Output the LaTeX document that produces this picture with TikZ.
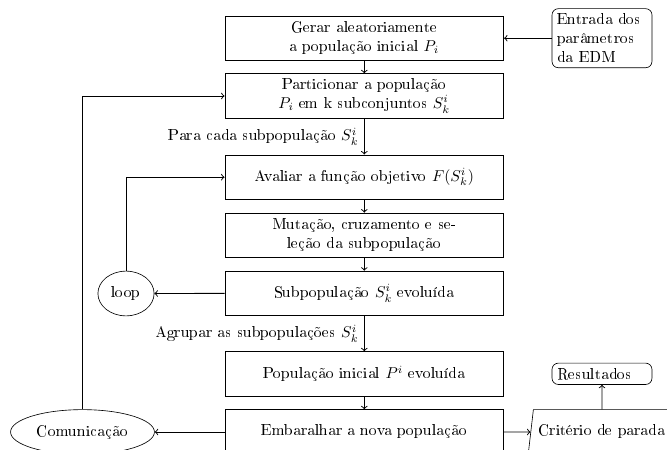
\documentclass[tikz,border=0pt]{standalone}
\usepackage[T1]{fontenc}
\usetikzlibrary{shapes.geometric}
\begin{document}
\begin{tikzpicture}[x=0.636pt,y=-0.636pt,
  mainbox/.style={draw, rectangle, text width=6cm, align=center, minimum height=1cm},
  sidebox/.style={draw, rectangle, rounded corners, text width=2cm, align=left},
  ellnode/.style={draw, ellipse, minimum height=1cm},
  iobox/.style={draw, trapezium, trapezium left angle=78, trapezium right angle=102, trapezium stretches=true, minimum height=1cm},
  conn/.style={->, semithick}]
\useasboundingbox (0,0) rectangle (667,450);
\clip (0,0) rectangle (667,450);
\node[mainbox] (b1) at (364.3,38.2) {Gerar aleatoriamente\\ a população inicial $P_i$};
\node[mainbox] (b2) at (364.3,96) {Particionar a população\\ $P_i$ em k subconjuntos $S_k^i$};
\node[mainbox] (b3) at (364.3,177.2) {Avaliar a função objetivo $F(S_k^i)$};
\node[mainbox] (b4) at (364.3,235.3) {Mutação, cruzamento e se-\\leção da subpopulação};
\node[mainbox] (b5) at (364.3,293.4) {Subpopulação $S_k^i$ evoluída};
\node[mainbox] (b6) at (364.3,374) {População inicial $P^i$ evoluída};
\node[mainbox] (b7) at (364.3,432) {Embaralhar a nova população};
\node[sidebox] (ent) at (602,38.2) {Entrada dos\\ parâmetros\\ da EDM};
\node[sidebox] (res) at (602,373.8) {Resultados};
\node[iobox] (crit) at (602,432) {Critério de parada};
\node[ellnode] (loop) at (126,293.5) {loop};
\node[ellnode] (com) at (82.5,432) {Comunicação};
\draw[conn] (ent) -- (b1);
\draw[conn] (b1) -- (b2);
\draw[conn] (b2) -- node[midway,left] {Para cada subpopulação $S_k^i$} (b3);
\draw[conn] (b3) -- (b4);
\draw[conn] (b4) -- (b5);
\draw[conn] (b5) -- node[midway,left] {Agrupar as subpopulações $S_k^i$} (b6);
\draw[conn] (b6) -- (b7);
\draw[conn] (b5) -- (loop);
\draw[conn] (loop.north) |- (b3.west);
\draw[conn] (b7) -- (com);
\draw[conn] (com.north) |- (b2.west);
\draw[conn] (b7) -- (crit);
\draw[conn] (crit.north) -- (res.south);
\end{tikzpicture}
\end{document}
